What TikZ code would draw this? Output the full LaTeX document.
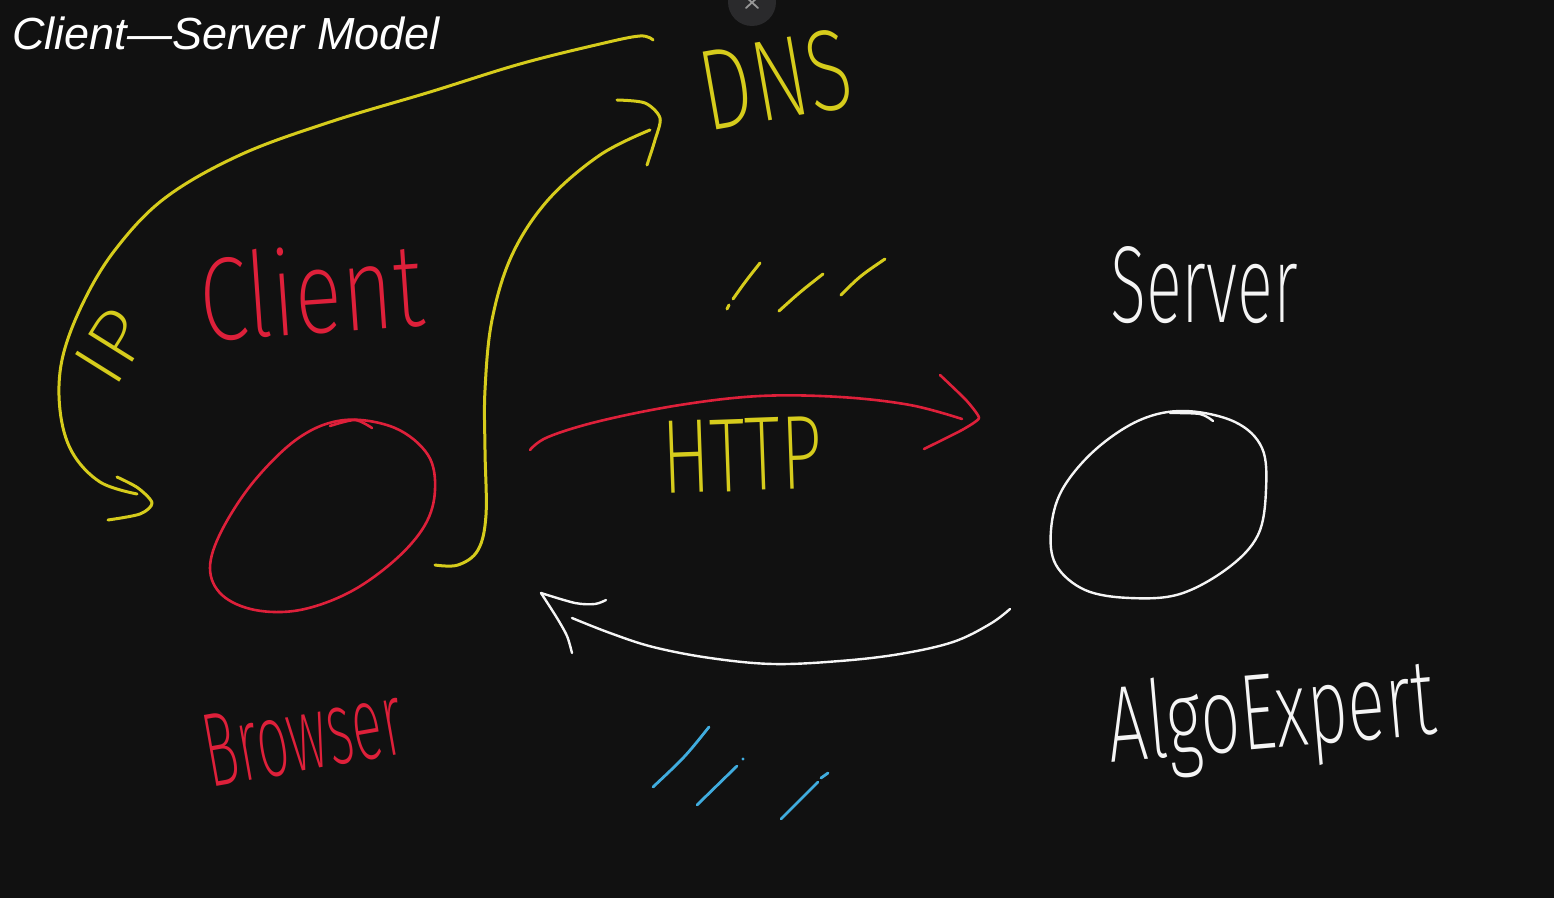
\documentclass[tikz,border=0pt]{standalone}
\usepackage{fontspec}
\setmainfont{Liberation Sans}
\newfontfamily\handfont{Fira Sans}[UprightFont=* ExtraLight]
\usepackage{graphicx}
\definecolor{bg}{RGB}{17,17,17}
\definecolor{yel}{RGB}{214,204,28}
\definecolor{rd}{RGB}{222,32,58}
\definecolor{wht}{RGB}{245,245,245}
\definecolor{blu}{RGB}{64,172,222}
\definecolor{btn}{RGB}{42,42,44}
\definecolor{btnx}{RGB}{150,150,150}
\newcommand{\hw}[3]{{\handfont\fontsize{60}{60}\selectfont\resizebox{#1}{#2}{#3}}}
\tikzset{
  pen/.style={line width=1.5pt, line cap=round, line join=round},
  ystroke/.style={pen, draw=yel},
  rstroke/.style={pen, draw=rd, line width=1.3pt},
  wstroke/.style={pen, draw=wht, line width=1.2pt},
  bstroke/.style={pen, draw=blu, line width=1.4pt},
  hand/.style={inner sep=0pt, outer sep=0pt},
}
\begin{document}
\begin{tikzpicture}[x=0.5pt, y=-0.5pt]
\useasboundingbox (0,0) rectangle (1554,898);
\clip (0,0) rectangle (1554,898);
\fill[bg] (0,0) rectangle (1554,898);

% close button
\fill[btn] (752,2) circle[radius=12pt];
\draw[draw=btnx, line width=0.9pt, line cap=round] (746,-3) -- (758,8) (758,-3) -- (746,8);

% title
\node[anchor=base west, inner sep=0pt, text=white,
      font=\fontsize{22.5}{27}\selectfont\itshape] (title) at (12,50) {Client—Server Model};

% labels
\node[hand, text=yel, rotate=10] (dns) at (776,80) {\hw{76pt}{40pt}{DNS}};
\node[hand, text=rd, rotate=4] (client) at (311,290) {\hw{112pt}{44pt}{Client}};
\node[hand, text=yel, rotate=58] (ip) at (112,346) {\hw{36pt}{26pt}{IP}};
\node[hand, text=yel, rotate=2] (http) at (742,455) {\hw{80pt}{36pt}{HTTP}};
\node[hand, text=wht] (server) at (1204,285) {\hw{94pt}{38pt}{Server}};
\node[hand, text=rd, rotate=10] (browser) at (303,735) {\hw{100pt}{36pt}{Browser}};
\node[hand, text=wht, rotate=5, anchor=base] (algo) at (1274,748) {\hw{164pt}{40pt}{AlgoExpert}};

% client ellipse
\coordinate (cl) at (323,515);
\draw[rstroke] plot[smooth cycle, tension=0.6] coordinates {(345,420) (395,428) (428,455) (435,490) (425,525) (395,560) (350,592) (300,610) (255,610) (222,595) (210,568) (222,530) (255,480) (300,437)};
\draw[rstroke] plot[smooth] coordinates {(330,426) (355,420) (372,428)};

% server ellipse
\coordinate (sv) at (1158,505);
\draw[wstroke] plot[smooth cycle, tension=0.6] coordinates {(1185,411) (1235,422) (1262,448) (1266,490) (1258,535) (1228,568) (1180,594) (1130,598) (1085,590) (1056,565) (1051,530) (1062,490) (1095,450) (1140,420)};
\draw[wstroke] plot[smooth] coordinates {(1170,413) (1200,414) (1213,421)};

% IP arrow (DNS -> client)
\coordinate (ipS) at (653,40);
\coordinate (ipE) at (137,494);
\draw[ystroke] plot[smooth, tension=0.6] coordinates {(ipS) (640,36) (600,44) (520,64) (430,92) (330,122) (240,155) (165,198) (115,250) (82,305) (62,360) (60,410) (72,452) (100,482) (ipE)};
\draw[ystroke] plot[smooth, tension=0.5] coordinates {(117,477) (138,488) (152,503) (140,514) (108,520)};

% DNS arrow (client -> DNS)
\coordinate (dnsS) at (435,565);
\coordinate (dnsE) at (650,130);
\draw[ystroke] plot[smooth, tension=0.6] coordinates {(dnsS) (458,565) (478,550) (486,515) (485,450) (485,390) (492,320) (512,255) (548,200) (600,155) (dnsE)};
\draw[ystroke] plot[smooth, tension=0.5] coordinates {(617,100) (645,103) (660,118) (655,140) (647,165)};

% HTTP request arrow
\coordinate (hS) at (530,450);
\coordinate (hE) at (962,419);
\draw[rstroke] plot[smooth, tension=0.6] coordinates {(hS) (548,437) (600,421) (680,405) (760,396) (840,397) (910,405) (hE)};
\draw[rstroke] plot[smooth, tension=0.3] coordinates {(940,375) (966,400) (979,418) (962,430) (924,449)};

% response arrow
\coordinate (rS) at (1010,609);
\coordinate (rE) at (572,618);
\draw[wstroke] plot[smooth, tension=0.6] coordinates {(rS) (990,624) (953,642) (900,654) (840,661) (773,664) (710,658) (653,647) (610,633) (rE)};
\draw[wstroke] plot[smooth, tension=0.5] coordinates {(606,600) (595,604) (575,603) (541,593)};
\draw[wstroke] plot[smooth, tension=0.5] coordinates {(541,593) (557,618) (567,636) (572,653)};

% yellow slashes
\draw[ystroke] (727,309) -- (729,305);
\draw[ystroke] (733,299) .. controls (745,282) .. (760,263);
\draw[ystroke] (779,311) .. controls (800,292) .. (823,274);
\draw[ystroke] (841,295) .. controls (860,276) .. (885,259);

% blue slashes
\draw[bstroke] (653,787) .. controls (685,757) .. (709,727);
\draw[bstroke] (697,805) -- (737,766);
\fill[blu] (743,759) circle[radius=0.8pt];
\draw[bstroke] (781,819) -- (818,782);
\draw[bstroke] (821,778) -- (828,773);
\end{tikzpicture}
\end{document}
